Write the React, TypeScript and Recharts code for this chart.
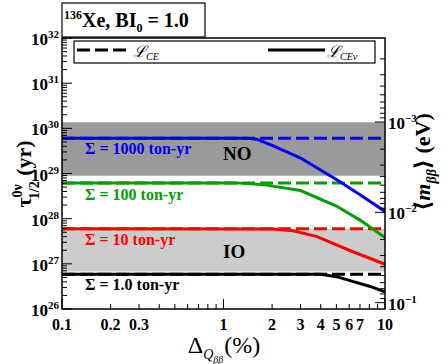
import { ComposedChart, Line, XAxis, YAxis, ReferenceArea } from 'recharts'

// exposure curves, log-log: x = Delta_Q (%), y = T_1/2 (yr)
const blueSolid = [
  { x: 0.1, y: 6.0e29 }, { x: 1.4, y: 6.0e29 }, { x: 1.6, y: 5.75e29 }, { x: 2, y: 4.2e29 },
  { x: 3, y: 2.2e29 }, { x: 5, y: 7.4e28 }, { x: 7, y: 3.4e28 }, { x: 10, y: 1.45e28 }
]
const greenSolid = [
  { x: 0.1, y: 6.2e28 }, { x: 1.2, y: 6.2e28 }, { x: 1.8, y: 5.6e28 }, { x: 3, y: 4.2e28 },
  { x: 5, y: 1.9e28 }, { x: 7, y: 9.3e27 }, { x: 10, y: 3.8e27 }
]
const redSolid = [
  { x: 0.1, y: 6.0e27 }, { x: 2, y: 5.9e27 }, { x: 2.7, y: 5.4e27 }, { x: 3.8, y: 4.0e27 },
  { x: 6, y: 2.0e27 }, { x: 10, y: 9.8e26 }
]
const blackSolid = [
  { x: 0.1, y: 5.9e26 }, { x: 4, y: 5.9e26 }, { x: 5, y: 5.2e26 }, { x: 6, y: 4.3e26 },
  { x: 8, y: 3.2e26 }, { x: 10, y: 2.4e26 }
]
const blueDashed = [{ x: 0.1, y: 6.0e29 }, { x: 10, y: 6.0e29 }]
const greenDashed = [{ x: 0.1, y: 6.2e28 }, { x: 10, y: 6.2e28 }]
const redDashed = [{ x: 0.1, y: 6.0e27 }, { x: 10, y: 6.0e27 }]
const blackDashed = [{ x: 0.1, y: 5.9e26 }, { x: 10, y: 5.9e26 }]

const noBand = [8.9e28, 1.36e30]
const ioBand = [6.8e26, 6.0e27]

const xTicks = [0.1, 0.2, 0.3, 0.4, 0.5, 0.6, 0.7, 0.8, 0.9, 1, 2, 3, 4, 5, 6, 7, 8, 9, 10]
const xLabels = [0.1, 0.2, 0.3, 1, 2, 3, 4, 5, 6, 7, 10]
const yTicks: number[] = []
for (let d = 26; d < 32; d++) for (let k = 1; k < 10; k++) yTicks.push(k * Math.pow(10, d))
yTicks.push(1e32)
const mTicks: number[] = []
for (let d = -4; d < -1; d++) for (let k = d === -4 ? 2 : 1; k < 10; k++) mTicks.push(k * Math.pow(10, d))
mTicks.push(0.1)
const mDomain = [Math.pow(10, -3.93), Math.pow(10, -0.93)]

const FONT = "'Liberation Serif', 'DejaVu Serif', serif"

const isDecade = (v: number) => Math.abs(Math.log10(v) - Math.round(Math.log10(v))) < 1e-6

const LeftTick = (props: any) => {
  const { x, y, payload } = props
  const v = payload.value
  const major = isDecade(v)
  return (
    <g>
      <line x1={x} x2={x + (major ? 10 : 5)} y1={y} y2={y} stroke="#000" strokeWidth={1} />
      {major && (
        <text x={x - 3} y={y + 7} textAnchor="end" fontFamily={FONT} fontWeight="bold" fontSize={17} fill="#000">
          10<tspan dy={-7} fontSize={11}>{Math.round(Math.log10(v))}</tspan>
        </text>
      )}
    </g>
  )
}

const RightTick = (props: any) => {
  const { x, y, payload } = props
  const v = payload.value
  const major = isDecade(v)
  return (
    <g>
      <line x1={x} x2={x - (major ? 10 : 5)} y1={y} y2={y} stroke="#000" strokeWidth={1} />
      {major && (
        <text x={x + 3} y={y + 7} textAnchor="start" fontFamily={FONT} fontWeight="bold" fontSize={17} fill="#000">
          10<tspan dy={-7} fontSize={11}>{'\u2212' + Math.abs(Math.round(Math.log10(v)))}</tspan>
        </text>
      )}
    </g>
  )
}

const BottomTick = (props: any) => {
  const { x, y, payload } = props
  const v = payload.value
  const major = isDecade(v)
  return (
    <g>
      <line x1={x} x2={x} y1={y} y2={y - (major ? 10 : 5)} stroke="#000" strokeWidth={1} />
      {xLabels.includes(v) && (
        <text x={x} y={y + 21} textAnchor="middle" fontFamily={FONT} fontWeight="bold" fontSize={16} fill="#000">
          {v}
        </text>
      )}
    </g>
  )
}

// frame, boxes and annotations drawn over the chart
const Overlay = () => (
  <svg width={447} height={364} style={{ position: 'absolute', left: 0, top: 0, pointerEvents: 'none' }}>
    <g fontFamily={FONT} fontWeight="bold">
      <rect x={62} y={38} width={323} height={271} fill="none" stroke="#000" strokeWidth={1.5} />
      <rect x={62} y={3} width={143} height={34} fill="#fff" stroke="#000" strokeWidth={1.2} />
      <text x={64} y={27} fontSize={20} fill="#000">
        <tspan fontSize={12} dy={-8}>136</tspan>
        <tspan dy={8}>Xe, BI</tspan>
        <tspan fontSize={12} dy={5}>0</tspan>
        <tspan dy={-5}> = 1.0</tspan>
      </text>
      <rect x={74} y={41} width={301} height={22} fill="#fff" stroke="#000" strokeWidth={1.2} />
      <line x1={77} x2={130} y1={50} y2={50} stroke="#000" strokeWidth={3} strokeDasharray="13 5" />
      <text x={133} y={57} fontSize={16} fontStyle="italic" fontWeight="normal" fill="#000">
        {'\u2112'}<tspan fontSize={10} dy={3}>CE</tspan>
      </text>
      <line x1={268} x2={325} y1={50} y2={50} stroke="#000" strokeWidth={3} />
      <text x={327} y={57} fontSize={16} fontStyle="italic" fontWeight="normal" fill="#000">
        {'\u2112'}<tspan fontSize={10} dy={3}>CE{'\u03bd'}</tspan>
      </text>
      <text x={85} y={154} fontSize={16} fill="#0000ff">{'\u03a3 = 1000 ton-yr'}</text>
      <text x={85} y={200} fontSize={16} fill="#00a000">{'\u03a3 = 100 ton-yr'}</text>
      <text x={85} y={245} fontSize={16} fill="#ff0000">{'\u03a3 = 10 ton-yr'}</text>
      <text x={85} y={290} fontSize={16} fill="#000">{'\u03a3 = 1.0 ton-yr'}</text>
      <text x={223} y={160} fontSize={19} fill="#000">NO</text>
      <text x={223} y={258} fontSize={19} fill="#000">IO</text>
      <text transform="translate(31,174) rotate(-90)" textAnchor="middle" fontSize={22} fill="#000">
        {'\u03c4'}<tspan fontSize={14} dy={-9}>{'0\u03bd'}</tspan>
        <tspan fontSize={14} dx={-15} dy={17}>1/2</tspan>
        <tspan dy={-8}> (yr)</tspan>
      </text>
      <text transform="translate(430,162) rotate(-90)" textAnchor="middle" fontSize={22} fill="#000">
        {'\u27e8'}<tspan fontStyle="italic">m</tspan>
        <tspan fontSize={14} fontStyle="italic" dy={6}>{'\u03b2\u03b2'}</tspan>
        <tspan dy={-6}>{'\u27e9 (eV)'}</tspan>
      </text>
      <text x={224} y={353} textAnchor="middle" fontSize={24} fontWeight="normal" fill="#000">
        {'\u0394'}<tspan fontSize={14} fontStyle="italic" dy={6}>Q</tspan>
        <tspan fontSize={10} fontStyle="italic" dy={4}>{'\u03b2\u03b2'}</tspan>
        <tspan dx={1} dy={-10}>(%)</tspan>
      </text>
    </g>
  </svg>
)

export default function App() {
  return (
    <div style={{ position: 'absolute', left: 0, top: 0, width: 447, height: 364, background: '#fff' }}>
      <ComposedChart width={447} height={364} margin={{ top: 38, right: 0, bottom: 0, left: 0 }}>
        <XAxis
          xAxisId="x"
          type="number"
          dataKey="x"
          scale="log"
          domain={[0.1, 10]}
          ticks={xTicks}
          allowDataOverflow
          height={55}
          tickSize={0}
          tickMargin={0}
          tick={<BottomTick />}
          axisLine={false}
          interval={0}
        />
        <YAxis
          yAxisId="t"
          type="number"
          scale="log"
          domain={[1e26, 1e32]}
          ticks={yTicks}
          allowDataOverflow
          width={62}
          tickSize={0}
          tickMargin={0}
          tick={<LeftTick />}
          axisLine={false}
          interval={0}
        />
        <YAxis
          yAxisId="m"
          orientation="right"
          type="number"
          scale="log"
          domain={mDomain}
          ticks={mTicks}
          allowDataOverflow
          reversed
          width={62}
          tickSize={0}
          tickMargin={0}
          tick={<RightTick />}
          axisLine={false}
          interval={0}
        />
        <ReferenceArea xAxisId="x" yAxisId="t" y1={noBand[0]} y2={noBand[1]} fill="#9a9a9a" fillOpacity={1} stroke="none" ifOverflow="hidden" />
        <ReferenceArea xAxisId="x" yAxisId="t" y1={ioBand[0]} y2={ioBand[1]} fill="#cccccc" fillOpacity={1} stroke="none" ifOverflow="hidden" />
        <Line xAxisId="x" yAxisId="t" data={blueDashed} dataKey="y" stroke="#0000ff" strokeWidth={3} strokeDasharray="13 5" dot={false} isAnimationActive={false} />
        <Line xAxisId="x" yAxisId="t" data={greenDashed} dataKey="y" stroke="#00a000" strokeWidth={3} strokeDasharray="13 5" dot={false} isAnimationActive={false} />
        <Line xAxisId="x" yAxisId="t" data={redDashed} dataKey="y" stroke="#ff0000" strokeWidth={3} strokeDasharray="13 5" dot={false} isAnimationActive={false} />
        <Line xAxisId="x" yAxisId="t" data={blackDashed} dataKey="y" stroke="#000" strokeWidth={3} strokeDasharray="13 5" dot={false} isAnimationActive={false} />
        <Line xAxisId="x" yAxisId="t" data={blueSolid} dataKey="y" stroke="#0000ff" strokeWidth={3} dot={false} isAnimationActive={false} />
        <Line xAxisId="x" yAxisId="t" data={greenSolid} dataKey="y" stroke="#00a000" strokeWidth={3} dot={false} isAnimationActive={false} />
        <Line xAxisId="x" yAxisId="t" data={redSolid} dataKey="y" stroke="#ff0000" strokeWidth={3} dot={false} isAnimationActive={false} />
        <Line xAxisId="x" yAxisId="t" data={blackSolid} dataKey="y" stroke="#000" strokeWidth={3} dot={false} isAnimationActive={false} />
      </ComposedChart>
      <Overlay />
    </div>
  )
}
